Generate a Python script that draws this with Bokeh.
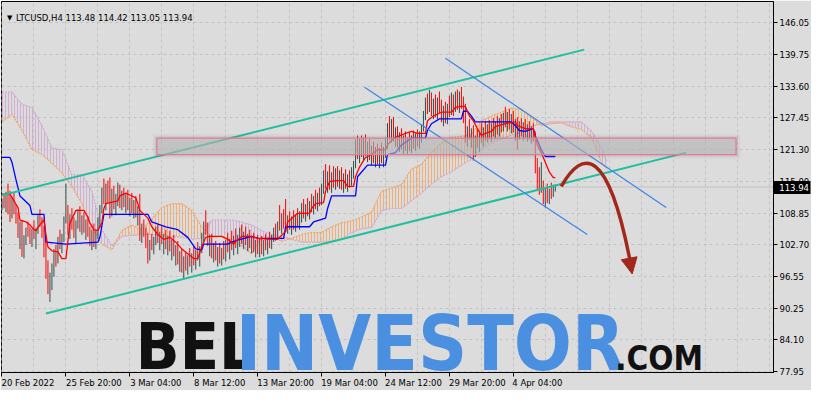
import numpy as np
from bokeh.plotting import figure
from bokeh.models import (Range1d, FixedTicker, PrintfTickFormatter, Label, Span,
                          Arrow, NormalHead, ColumnDataSource)
from bokeh.core.properties import value
from bokeh.embed import file_html
from bokeh.resources import INLINE

# ---------------- data ----------------
symbol = "LTCUSD,H4"
last_bar = ["113.48", "114.42", "113.05", "113.94"]
last_price = 113.94
first_open = 110.2

bar_high = [
    111.6, 112.4, 113.0, 114.6, 113.2, 112.0, 112.8, 110.6, 109.0, 107.2,
    107.5, 104.5, 106.0, 107.2, 106.2, 105.8, 107.4, 106.0, 108.6, 109.6,
    108.0, 106.4, 104.0, 99.6, 97.2, 99.0, 101.8, 102.6, 104.2, 105.6,
    104.8, 108.2, 114.6, 110.4, 108.6, 109.8, 108.0, 107.4, 109.6, 110.2,
    108.4, 109.0, 107.6, 108.2, 106.2, 105.6, 106.8, 105.4, 108.0, 110.4,
    113.8, 115.6, 114.6, 115.2, 115.8, 113.6, 114.2, 112.6, 114.8, 114.4,
    113.2, 113.8, 112.6, 113.4, 111.8, 112.8, 111.4, 112.2, 110.2, 112.6,
    106.8, 107.6, 106.0, 105.0, 103.6, 104.8, 104.2, 106.2, 106.6, 105.2,
    106.2, 104.8, 105.6, 104.4, 105.4, 103.6, 104.6, 102.6, 103.4, 101.4,
    102.0, 100.4, 101.2, 100.6, 102.0, 101.0, 102.4, 101.6, 103.2, 102.4,
    105.0, 107.2, 109.4, 107.0, 104.6, 104.8, 103.0, 103.4, 102.2, 103.0,
    102.0, 103.4, 103.6, 105.0, 103.8, 105.4, 104.4, 105.8, 104.6, 106.0,
    106.6, 105.2, 106.2, 104.8, 105.6, 104.4, 105.0, 103.6, 104.6, 103.8,
    104.4, 103.6, 104.8, 104.0, 105.2, 104.6, 106.0, 106.8, 107.2, 110.4,
    108.8, 109.6, 111.6, 108.4, 109.2, 108.2, 109.4, 108.6, 109.8, 109.2,
    110.8, 111.6, 110.6, 111.8, 111.2, 112.6, 112.2, 113.4, 112.8, 113.8,
    114.6, 117.2, 118.4, 117.0, 118.2, 116.8, 118.0, 117.6, 118.0, 117.2,
    117.8, 116.6, 117.4, 116.4, 117.2, 117.8, 119.0, 123.2, 124.0, 123.4,
    124.0, 123.6, 124.2, 122.8, 123.4, 122.0, 122.8, 121.8, 122.4, 121.6,
    122.6, 121.8, 123.4, 126.4, 127.8, 127.2, 127.6, 125.6, 125.8, 124.6,
    125.4, 124.0, 124.8, 123.6, 124.6, 124.0, 125.0, 124.4, 125.2, 124.8,
    126.2, 128.8, 131.4, 132.2, 132.9, 132.4, 131.2, 132.0, 131.4, 132.6,
    131.0, 129.8, 130.6, 130.2, 131.8, 132.4, 132.0, 132.6, 133.0, 132.6,
    133.5, 131.6, 130.2, 125.8, 127.2, 125.4, 126.0, 124.0, 125.4, 124.6,
    126.4, 125.6, 126.8, 126.2, 127.0, 126.4, 127.4, 126.8, 127.8, 127.4,
    128.2, 128.4, 129.6, 128.6, 129.2, 128.2, 128.8, 127.2, 127.6, 126.8,
    127.4, 126.6, 127.2, 126.2, 126.8, 125.8, 126.4, 124.8, 119.6, 117.8,
    118.8, 115.2, 113.8, 114.6, 113.6, 114.8, 114.4, 114.42,
]
bar_low = [
    109.4, 109.8, 109.0, 108.6, 107.1, 107.8, 108.6, 106.8, 104.0, 101.8,
    100.3, 100.0, 102.6, 104.2, 102.8, 102.2, 103.8, 101.8, 104.8, 106.2,
    104.0, 100.2, 96.0, 93.0, 91.5, 93.8, 96.4, 98.4, 99.0, 101.8,
    101.0, 103.2, 106.8, 104.6, 103.8, 105.6, 104.0, 103.0, 105.8, 105.2,
    104.6, 105.0, 103.6, 104.2, 102.4, 101.6, 102.2, 101.8, 103.8, 106.0,
    108.8, 110.6, 109.4, 110.8, 107.8, 108.2, 109.6, 108.4, 110.2, 109.8,
    109.4, 110.0, 108.8, 109.4, 108.2, 108.8, 107.8, 108.0, 106.4, 103.4,
    103.0, 104.2, 102.0, 99.0, 99.6, 101.6, 100.8, 102.6, 103.0, 101.6,
    102.8, 100.8, 101.8, 100.6, 101.4, 99.6, 100.4, 98.6, 98.8, 97.4,
    97.2, 96.0, 97.6, 96.8, 98.4, 97.2, 98.6, 97.8, 99.6, 98.4,
    101.0, 103.2, 104.6, 102.4, 100.4, 100.0, 99.2, 99.6, 98.4, 99.0,
    98.6, 99.8, 99.4, 101.2, 99.8, 101.6, 100.6, 102.0, 100.8, 102.2,
    102.8, 101.8, 102.6, 101.4, 102.0, 101.0, 101.2, 100.2, 100.8, 100.2,
    100.8, 100.4, 101.6, 100.8, 102.0, 101.8, 103.2, 103.4, 103.6, 105.4,
    104.8, 105.8, 105.2, 104.8, 105.6, 104.6, 105.6, 105.2, 106.0, 105.6,
    107.0, 107.8, 107.2, 108.2, 107.6, 109.0, 108.6, 109.6, 109.2, 110.2,
    110.4, 112.6, 113.6, 112.8, 113.4, 112.8, 113.8, 113.4, 114.0, 113.6,
    113.4, 112.8, 113.6, 113.0, 113.8, 114.2, 115.6, 117.6, 119.4, 118.6,
    119.8, 119.2, 120.0, 118.8, 119.2, 118.2, 118.6, 117.8, 118.4, 117.6,
    118.6, 117.8, 119.6, 121.4, 123.2, 122.6, 122.8, 121.8, 121.6, 120.8,
    121.2, 120.4, 121.0, 120.2, 121.0, 120.6, 121.4, 121.0, 121.8, 121.4,
    122.6, 124.8, 127.0, 128.2, 128.6, 127.8, 127.2, 127.6, 127.2, 128.4,
    126.6, 125.8, 126.4, 126.2, 127.6, 128.0, 127.8, 128.6, 129.0, 128.4,
    129.2, 126.4, 122.6, 121.8, 123.2, 121.6, 119.1, 119.8, 121.6, 120.8,
    122.6, 121.8, 123.0, 122.6, 123.4, 122.8, 123.8, 123.4, 124.2, 123.8,
    124.6, 124.8, 125.6, 124.8, 125.2, 124.4, 124.6, 123.0, 121.2, 123.2,
    123.8, 123.0, 123.6, 122.8, 123.2, 122.4, 122.8, 116.6, 113.2, 112.4,
    112.8, 110.6, 109.9, 110.8, 110.6, 111.6, 112.0, 113.05,
]
bar_close = [
    110.8, 110.2, 112.4, 109.3, 108.0, 111.5, 109.0, 107.4, 104.8, 106.6,
    101.4, 103.8, 105.4, 104.8, 103.6, 105.2, 104.2, 105.6, 107.9, 106.8,
    104.6, 101.0, 96.8, 94.0, 96.4, 98.2, 100.6, 99.2, 103.6, 102.4,
    104.2, 107.6, 108.2, 105.2, 107.8, 106.2, 104.6, 106.8, 108.8, 105.8,
    107.6, 105.6, 106.8, 104.8, 103.2, 104.8, 102.8, 104.6, 107.4, 109.6,
    112.8, 111.4, 113.8, 111.6, 108.6, 112.8, 110.2, 111.8, 113.6, 110.4,
    112.6, 110.8, 111.8, 110.2, 111.2, 109.4, 110.6, 108.6, 109.4, 104.4,
    106.0, 104.8, 102.8, 100.0, 103.0, 102.2, 103.6, 105.6, 103.6, 104.8,
    103.4, 104.2, 102.4, 103.8, 102.0, 103.0, 101.0, 102.0, 99.6, 100.8,
    97.8, 99.6, 98.2, 100.2, 99.0, 100.6, 99.4, 101.2, 100.2, 102.0,
    104.4, 106.6, 105.2, 103.0, 103.8, 100.6, 102.4, 100.2, 101.6, 99.6,
    101.4, 100.4, 103.0, 101.8, 103.2, 102.2, 103.8, 102.6, 104.0, 105.4,
    103.4, 104.6, 103.2, 104.2, 102.6, 103.8, 101.8, 103.0, 101.4, 103.2,
    101.6, 103.0, 102.2, 103.6, 102.8, 104.2, 105.6, 104.0, 106.6, 106.2,
    108.2, 106.4, 106.0, 107.8, 106.2, 107.6, 106.4, 108.0, 106.6, 108.8,
    110.2, 108.6, 110.0, 109.0, 110.6, 109.8, 111.6, 110.4, 112.2, 111.2,
    114.0, 116.6, 114.4, 116.2, 114.2, 116.0, 114.6, 117.0, 114.8, 116.6,
    114.2, 116.0, 114.4, 115.8, 114.6, 117.2, 118.4, 122.6, 120.2, 122.8,
    120.6, 122.8, 120.8, 122.2, 119.8, 121.4, 119.2, 121.2, 119.0, 121.0,
    119.4, 121.2, 122.8, 125.8, 124.0, 126.4, 123.6, 124.8, 122.4, 124.0,
    121.8, 123.4, 121.6, 123.0, 121.8, 123.4, 122.2, 123.8, 122.6, 124.2,
    125.6, 128.2, 130.6, 129.0, 132.0, 128.6, 130.4, 128.4, 130.8, 129.2,
    127.4, 129.0, 127.2, 129.6, 128.4, 131.6, 128.8, 131.8, 130.0, 131.8,
    130.0, 127.2, 123.4, 125.0, 123.8, 124.8, 120.0, 123.4, 122.2, 124.0,
    123.2, 125.0, 123.6, 125.6, 124.0, 125.8, 124.6, 126.2, 125.0, 126.8,
    125.4, 127.6, 126.4, 127.8, 126.0, 127.4, 125.2, 126.4, 124.2, 126.0,
    124.6, 126.0, 124.4, 125.6, 124.0, 125.2, 123.4, 117.4, 114.0, 113.2,
    113.6, 111.4, 113.2, 111.6, 113.0, 112.6, 113.48, 113.94,
]

# Ichimoku: Tenkan-sen (red) and Kijun-sen (blue)
tenkan_bar = [0, 4, 8, 9, 12, 14, 16, 17, 19, 21, 22, 23, 25, 28, 30, 32, 33, 34, 37, 41,
              43, 44, 46, 48, 50, 51, 52, 58, 59, 62, 64, 67, 68, 69, 73, 75, 78, 81, 84, 87,
              90, 93, 96, 98, 100, 102, 104, 110, 113, 116, 117, 120, 125, 128, 135, 138, 142, 143, 148, 154,
              155, 157, 161, 162, 164, 167, 171, 173, 176, 177, 179, 182, 185, 188, 192, 193, 196, 202, 205, 208,
              212, 213, 216, 220, 225, 227, 230, 232, 234, 236, 238, 240, 242, 245, 247, 252, 257, 258, 262, 266,
              267, 268, 270, 272, 274, 276, 277]
tenkan_val = [112.56, 112.56, 109.93, 107.49, 107.11, 106.54, 105.60, 105.42, 106.54, 107.49,
              104.66, 102.22, 101.47, 101.28, 99.96, 99.96, 103.35, 106.92, 109.37, 109.37,
              108.05, 106.92, 105.60, 105.42, 106.92, 109.74, 110.68, 111.25, 112.19, 112.75,
              112.37, 111.81, 110.68, 109.37, 107.86, 106.17, 104.66, 103.72, 104.10, 103.16,
              101.84, 100.90, 99.96, 99.96, 102.22, 104.10, 104.29, 104.29, 103.72, 102.78,
              103.35, 104.29, 104.29, 103.91, 103.72, 103.72, 105.23, 107.11, 108.80, 108.80,
              109.74, 110.68, 110.87, 113.13, 115.01, 115.20, 115.20, 114.07, 114.07, 115.95,
              117.83, 119.71, 120.28, 121.22, 121.22, 122.16, 123.47, 124.42, 124.79, 124.42,
              124.42, 126.86, 127.80, 128.55, 128.55, 129.49, 129.68, 129.68, 127.80, 126.86,
              125.36, 124.04, 124.42, 124.79, 125.73, 126.30, 126.67, 125.92, 125.36, 125.36,
              123.85, 122.16, 120.65, 118.77, 116.89, 115.76, 115.76]
kijun_bar = [0, 4, 5, 7, 9, 14, 15, 21, 22, 32, 48, 49, 51, 73, 75, 82, 88, 93, 97, 100,
             101, 113, 115, 118, 125, 128, 141, 142, 154, 156, 162, 163, 165, 177, 178, 183, 192, 193, 197, 200,
             205, 212, 213, 215, 219, 230, 231, 233, 235, 237, 255, 257, 259, 262, 266, 267, 268, 270, 272, 277]
kijun_val = [119.71, 119.71, 118.77, 115.39, 112.19, 110.31, 108.61, 108.61, 103.16, 102.78,
             103.16, 104.10, 108.61, 108.61, 107.11, 106.17, 105.60, 104.10, 101.84, 101.65,
             102.78, 102.78, 103.16, 103.54, 104.29, 103.91, 103.91, 106.17, 106.17, 107.11,
             107.86, 109.74, 112.19, 112.19, 115.95, 118.21, 118.21, 120.28, 120.65, 122.16,
             123.47, 123.47, 124.98, 126.30, 127.24, 127.24, 128.74, 128.74, 127.80, 126.67,
             126.67, 125.92, 124.98, 124.79, 125.36, 123.85, 123.10, 121.22, 119.90, 119.90]

# Senkou spans (cloud), shifted 26 bars ahead
span_bar = list(range(0, 301, 5)) + [303]
span_a = [126.67, 128.18, 124.98, 121.22, 120.28, 118.58, 116.70, 114.07, 110.68, 105.98,
          102.78, 101.65, 105.42, 106.54, 105.60, 107.67, 109.93, 110.68, 110.68, 109.37,
          106.17, 104.10, 104.29, 103.72, 102.41, 100.90, 104.10, 104.29, 103.35, 103.91,
          104.66, 105.04, 105.04, 106.17, 106.92, 107.30, 108.05, 108.99, 113.13, 113.69,
          114.45, 117.45, 118.40, 120.65, 122.53, 123.66, 123.85, 124.23, 126.86, 127.80,
          128.55, 129.31, 129.12, 127.61, 125.92, 126.30, 126.48, 125.73, 125.17, 123.66,
          118.77, 117.45]
span_b = [132.50, 132.50, 130.06, 129.49, 125.92, 121.59, 121.22, 116.33, 116.33, 113.13,
          105.60, 102.41, 104.29, 104.48, 104.66, 104.66, 104.48, 104.29, 104.10, 103.72,
          103.91, 107.49, 107.49, 107.49, 107.11, 106.54, 105.42, 104.66, 104.29, 103.72,
          103.16, 103.16, 103.16, 103.16, 103.72, 105.04, 105.79, 105.98, 109.37, 109.74,
          109.74, 111.25, 112.75, 114.45, 115.95, 116.89, 118.21, 119.34, 121.22, 122.53,
          123.29, 124.04, 124.60, 125.73, 126.30, 126.67, 126.67, 126.67, 126.67, 124.98,
          121.59, 118.77]

# drawing objects (bar index, price)
rising_channel_x = [[-1.5, 291.5], [22.0, 342.5]]
rising_channel_y = [[112.19, 140.78], [89.24, 120.65]]
falling_channel_x = [[222.0, 332.5], [181.5, 293.0]]
falling_channel_y = [[139.09, 109.93], [133.44, 104.66]]
zone_left, zone_right, zone_bottom, zone_top = 77.5, 367.5, 120.28, 123.47
arrow_x = [280.0, 291.0, 303.5, 314.5]
arrow_y = [114.07, 121.59, 121.59, 99.40]
arrow_tip = (315.5, 96.95)

price_ticks = [77.95, 84.10, 90.25, 96.55, 102.70, 108.85, 115.00, 121.30, 127.45, 133.60, 139.75, 146.05]
date_labels = ["20 Feb 2022", "25 Feb 20:00", "3 Mar 04:00", "8 Mar 12:00", "13 Mar 20:00",
               "19 Mar 04:00", "24 Mar 12:00", "29 Mar 20:00", "4 Apr 04:00"]
date_bars = [0, 32, 64, 96, 128, 160, 192, 224, 256]

# ---------------- styling / layout ----------------
BG = "#dcdcdc"
W, H = 811, 390
RB, BB = 37, 16
frame_w = W - RB - 1
x0 = -0.25
x1 = x0 + frame_w / 2.0
FONT = "DejaVu Sans"
# price scale: the last price sits in the middle of the scale (MT4 keeps its price box there)
y_half = 36.24

p = figure(width=W, height=H, x_range=Range1d(x0, x1),
           y_range=Range1d(last_price - y_half, last_price + y_half),
           output_backend="svg", toolbar_location=None, y_axis_location="right",
           background_fill_color=BG, border_fill_color=BG,
           min_border_left=1, min_border_top=1, min_border_right=RB, min_border_bottom=BB)
p.outline_line_color = "black"
p.outline_line_width = 1

# grid
p.xgrid.ticker = FixedTicker(ticks=list(range(0, 400, 16)))
p.ygrid.ticker = FixedTicker(ticks=price_ticks)
for g in (p.xgrid[0], p.ygrid[0]):
    g.grid_line_color = "#c3c3c3"
    g.grid_line_dash = "3 3"
    g.grid_line_width = 1

# right price axis, with the black current-price box (a wide minor tick) and its white label
BOX_W = 37
ya = p.yaxis[0]
ya.ticker = FixedTicker(ticks=price_ticks, minor_ticks=[last_price])
ya.formatter = PrintfTickFormatter(format="%.2f")
ya.axis_line_color = "black"
ya.major_tick_line_color = "black"
ya.major_tick_out = 4
ya.major_tick_in = 0
ya.minor_tick_line_color = "black"
ya.minor_tick_line_width = 13
ya.minor_tick_out = BOX_W
ya.minor_tick_in = 0
ya.major_label_text_font = FONT
ya.major_label_text_font_size = "8.5px"
ya.major_label_text_color = "black"
ya.major_label_standoff = 6 - BOX_W
ya.axis_label = "%.2f" % last_price
ya.axis_label_orientation = "horizontal"
ya.axis_label_standoff = -33
ya.axis_label_text_color = "white"
ya.axis_label_text_font = FONT
ya.axis_label_text_font_size = "8.5px"
ya.axis_label_text_font_style = "normal"

# bottom time axis: labels left-aligned to the tick mark (MT4 style)
label_half_bars = [13, 14, 13, 13, 14, 14, 14, 14, 12]
centers = [int(round(b + h)) for b, h in zip(date_bars, label_half_bars)]
xa = p.xaxis[0]
xa.ticker = FixedTicker(ticks=centers, minor_ticks=date_bars)
xa.major_label_overrides = {c: lab for c, lab in zip(centers, date_labels)}
xa.major_tick_line_color = None
xa.major_tick_out = 4
xa.major_tick_in = 0
xa.minor_tick_line_color = "black"
xa.minor_tick_out = 4
xa.minor_tick_in = 0
xa.axis_line_color = "black"
xa.major_label_text_font = FONT
xa.major_label_text_font_size = "8.5px"
xa.major_label_text_color = "black"
xa.major_label_standoff = 1

# ---------------- Ichimoku cloud ----------------
sa = np.array(span_a)
sb = np.array(span_b)
top = np.maximum(sa, sb)
p.varea(x=span_bar, y1=sb, y2=top, fill_color=None, hatch_pattern="|", hatch_color="#f4a460",
        hatch_scale=3, hatch_weight=1, hatch_alpha=0.8)
p.varea(x=span_bar, y1=sa, y2=top, fill_color=None, hatch_pattern="|", hatch_color="#d0a8d0",
        hatch_scale=3, hatch_weight=1, hatch_alpha=0.9)
p.line(span_bar, span_b, line_color="#d0a8d0", line_width=1.2, line_dash="2 1")
p.line(span_bar, span_a, line_color="#f4a460", line_width=1.2, line_dash="2 1")

# current price line
p.add_layout(Span(location=last_price, dimension="width", line_color="#c0c0c0",
                  line_width=1, level="underlay"))

# ---------------- bars ----------------
n = len(bar_close)
idx = np.arange(n)
closes = np.array(bar_close)
opens = np.array([first_open] + bar_close[:-1])
colors = np.where(closes >= opens, "#2f4f4f", "#ff0000")
src = ColumnDataSource(dict(x=idx, hi=bar_high, lo=bar_low, c=list(colors)))
p.segment(x0="x", y0="lo", x1="x", y1="hi", color="c", line_width=1, source=src)

# tenkan / kijun
p.line(kijun_bar, kijun_val, line_color="#0000ff", line_width=1.3)
p.line(tenkan_bar, tenkan_val, line_color="#ff0000", line_width=1.3)

# ---------------- drawing objects ----------------
p.multi_line(rising_channel_x, rising_channel_y, line_color="#22bf9f", line_width=2)
p.multi_line(falling_channel_x, falling_channel_y, line_color="#3f86e6", line_width=1.3)

for pad, a in ((2.0, 0.07), (1.0, 0.10)):
    p.quad(left=zone_left - pad, right=zone_right + pad,
           bottom=zone_bottom - 0.38 * pad, top=zone_top + 0.38 * pad,
           fill_color="#606060", fill_alpha=a, line_color=None)
p.quad(left=zone_left, right=zone_right, bottom=zone_bottom, top=zone_top,
       fill_color="#bdbdbd", fill_alpha=0.55, line_color="#e57a98", line_width=1.3)

ARROW_C = "#a3281c"
p.bezier(x0=[arrow_x[0]], y0=[arrow_y[0]], cx0=[arrow_x[1]], cy0=[arrow_y[1]],
         cx1=[arrow_x[2]], cy1=[arrow_y[2]], x1=[arrow_x[3]], y1=[arrow_y[3]],
         line_color=ARROW_C, line_width=3.5)
p.add_layout(Arrow(end=NormalHead(size=16, fill_color=ARROW_C, line_color=ARROW_C),
                   x_start=arrow_x[2], y_start=arrow_y[2], x_end=arrow_tip[0], y_end=arrow_tip[1],
                   line_color=None))

# ---------------- texts ----------------
p.add_layout(Label(x=2.5, y=146.9, text="\u25BC", text_font=FONT, text_font_size="7px",
                   text_color="black", text_baseline="middle", level="overlay"))
p.add_layout(Label(x=7.0, y=146.9, text=symbol + "  " + " ".join(last_bar), text_font=FONT,
                   text_font_size="8.5px", text_color="black", text_baseline="middle",
                   level="overlay"))

WM_FONT = "'Liberation Sans Narrow', 'DejaVu Sans Condensed', 'Roboto Condensed', 'Noto Sans', sans-serif"
p.add_layout(Label(x=67, y=82.6, text="BEL", text_font=WM_FONT, text_font_size="64px",
                   text_font_style="bold", text_color="#111111", text_baseline="alphabetic",
                   level="overlay"))
p.add_layout(Label(x=117, y=83.4, text="INVESTOR", text_font=WM_FONT, text_font_size="76px",
                   text_font_style="bold", text_color="#4a8fe0", text_baseline="alphabetic",
                   level="overlay"))
p.add_layout(Label(x=307, y=80.5, text=".COM", text_font=WM_FONT, text_font_size="33px",
                   text_font_style="bold", text_color="#111111", text_baseline="alphabetic",
                   level="overlay"))

open("out.html", "w").write(file_html(p, INLINE))
